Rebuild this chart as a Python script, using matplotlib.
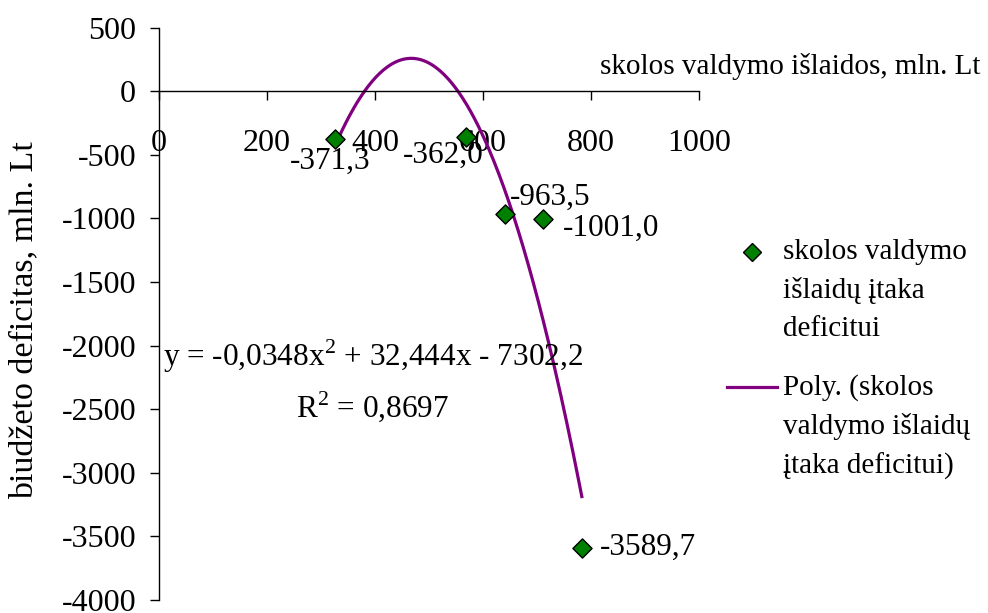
import numpy as np
import matplotlib
matplotlib.use("Agg")
import matplotlib.pyplot as plt
from matplotlib.lines import Line2D

# skolos valdymo islaidos (x) ir biudzeto deficitas (y), mln. Lt
xs = [326, 568, 641, 711, 783]
ys = [-371.3, -362.0, -963.5, -1001.0, -3589.7]
point_labels = ["-371,3", "-362,0", "-963,5", "-1001,0", "-3589,7"]
# label offsets in pixels, (dx, dy)
label_offsets = [(-5, -23), (-22, -18), (45, 16), (68, -10), (66, 0)]

x_ticks = [0, 200, 400, 600, 800, 1000]
y_ticks = list(range(-4000, 501, 500))

equation_text = "y = -0,0348x$^2$ + 32,444x - 7302,2\nR$^2$ = 0,8697"
legend_labels = ["skolos valdymo\nišlaidų įtaka\ndeficitui",
                 "Poly. (skolos\nvaldymo išlaidų\nįtaka deficitui)"]

plt.rcParams["font.family"] = ["Liberation Serif", "DejaVu Serif"]
plt.rcParams["mathtext.fontset"] = "custom"
plt.rcParams["mathtext.rm"] = "Liberation Serif"
fs = 23

W, H = 988, 613
fig = plt.figure(figsize=(W / 100, H / 100), dpi=100)
ax = fig.add_axes([159 / W, 1 - 600 / H, 540 / W, (600 - 27.7) / H])

# polynomial trendline (order 2) fitted on the points
coef = np.polyfit(xs, ys, 2)
xx = np.linspace(min(xs), max(xs), 200)
ax.plot(xx, np.polyval(coef, xx), color="#800080", lw=2.3, zorder=2)

ax.scatter(xs, ys, marker="D", s=95, color="#008000", edgecolors="black",
           linewidths=1.0, zorder=3)

for x, y, lab, (dx, dy) in zip(xs, ys, point_labels, label_offsets):
    ax.annotate(lab, (x, y), xytext=(dx, dy), textcoords="offset pixels",
                ha="center", va="center", fontsize=22.5)

ax.set_xlim(0, 1000)
ax.set_ylim(-4000, 500)
ax.set_xticks(x_ticks)
ax.set_yticks(y_ticks)
ax.set_xticklabels([str(v) for v in x_ticks])
ax.set_yticklabels([str(v) for v in y_ticks])

ax.spines["left"].set_position(("data", 0))
ax.spines["bottom"].set_position(("data", 0))
ax.spines["top"].set_visible(False)
ax.spines["right"].set_visible(False)
for sp in ("left", "bottom"):
    ax.spines[sp].set_linewidth(1.0)

ax.tick_params(axis="x", direction="out", length=6.5, width=1.0, pad=21,
               labelsize=fs)
ax.tick_params(axis="y", direction="out", length=6.5, width=1.0, pad=10,
               labelsize=fs)

fig.text(373 / W, 1 - 381 / H, equation_text, ha="center", va="center",
         fontsize=22.5, linespacing=1.5, multialignment="center")

fig.text(24 / W, 1 - 320 / H, "biudžeto deficitas, mln. Lt", rotation=90,
         ha="center", va="center", fontsize=24.5)
fig.text(600 / W, 1 - 67 / H, "skolos valdymo išlaidos, mln. Lt",
         ha="left", va="center", fontsize=21)

# legend drawn by hand, handle aligned with first line like Excel
lfs = 21
fig.add_artist(Line2D([752 / W], [1 - 252 / H], marker="D", markersize=9,
                      color="#008000", markeredgecolor="black",
                      markeredgewidth=1.0, linestyle="none",
                      transform=fig.transFigure))
fig.text(783 / W, 1 - 239 / H, legend_labels[0], ha="left", va="top",
         fontsize=lfs, linespacing=1.58)
fig.add_artist(Line2D([727 / W, 777 / W], [1 - 387 / H, 1 - 387 / H],
                      color="#800080", lw=2.3, transform=fig.transFigure))
fig.text(783 / W, 1 - 374 / H, legend_labels[1], ha="left", va="top",
         fontsize=lfs, linespacing=1.58)

fig.savefig("out.png", dpi=100)
